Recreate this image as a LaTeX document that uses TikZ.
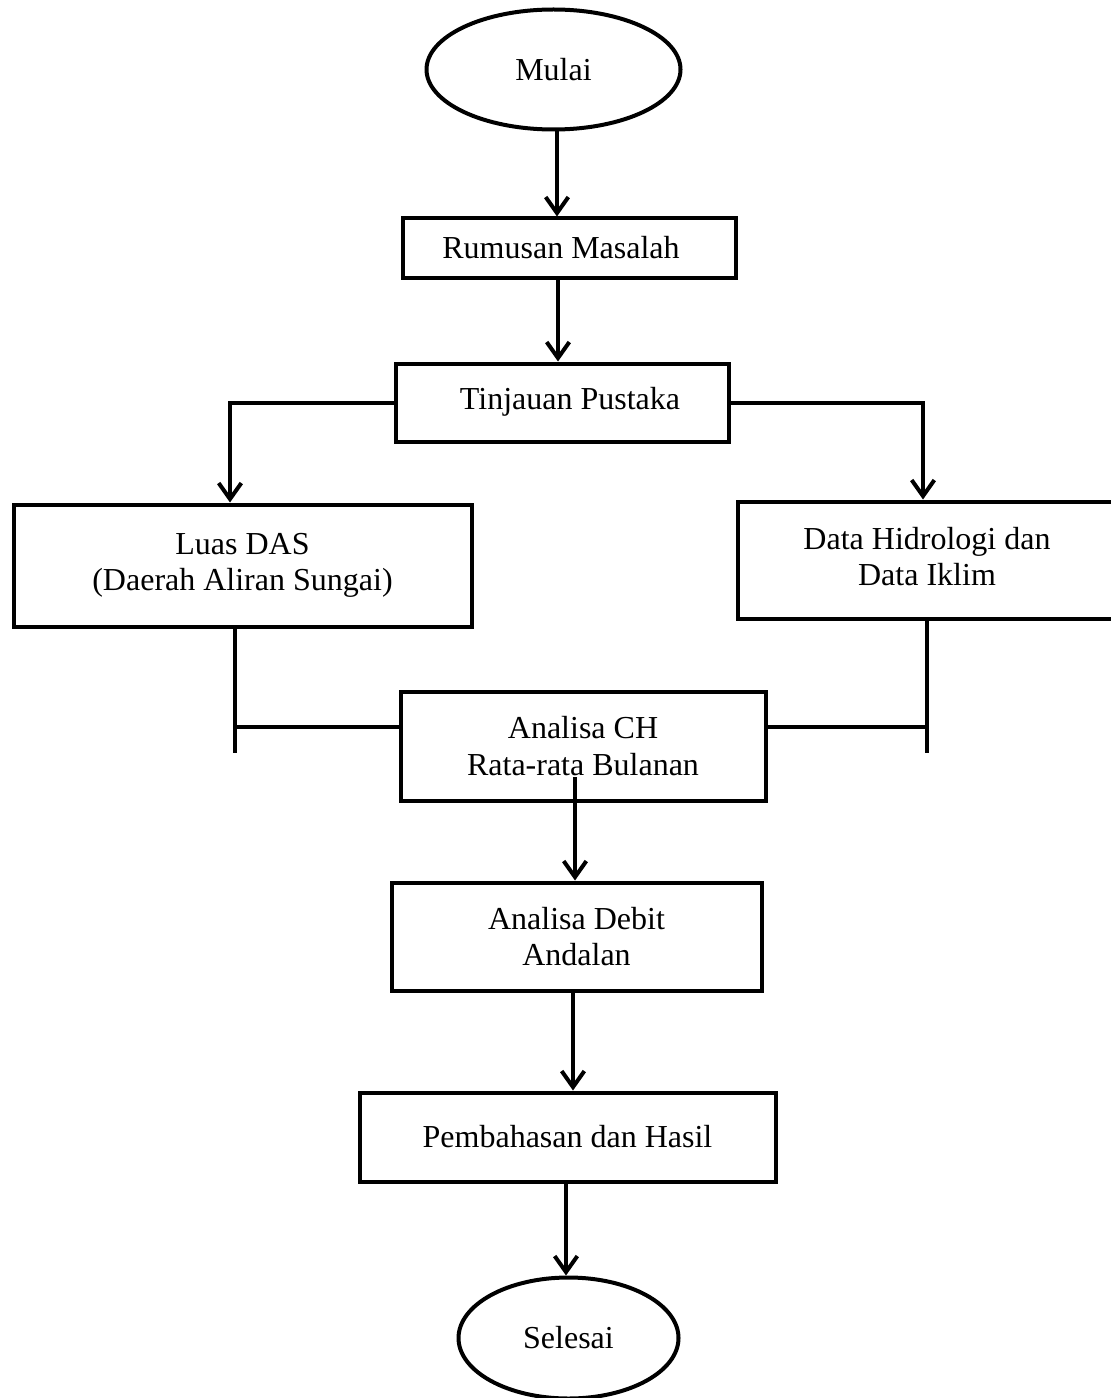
\documentclass[tikz,border=0pt]{standalone}
\usepackage{fontspec}
\setmainfont{Liberation Serif}
\usetikzlibrary{shapes.geometric,arrows.meta,calc}
\tikzset{
  every node/.style={font=\fontsize{24}{27.5}\selectfont, inner sep=0pt},
  box/.style={draw, line width=3pt, rectangle, align=center},
  term/.style={draw, line width=3pt, ellipse},
  conn/.style={line width=3pt},
  arr/.style={line width=3pt, -{Straight Barb[length=12pt,width=17pt,line width=3pt]}}
}
\begin{document}
\begin{tikzpicture}[x=0.75pt,y=-0.75pt]
\useasboundingbox (0,0) rectangle (1110,1398);
\node[term, minimum width=254*0.75pt, minimum height=120*0.75pt] (mulai) at (553.5,69.5) {\raisebox{-4.5pt}{Mulai}};
\node[box, minimum width=333*0.75pt, minimum height=59*0.75pt] (rumusan) at (569,248) {Rumusan Masalah\hspace*{12pt}};
\node[box, minimum width=333*0.75pt, minimum height=78*0.75pt] (tinjauan) at (562,402.5) {\hspace*{12pt}\raisebox{6.4pt}{Tinjauan Pustaka}};
\node[box, minimum width=458*0.75pt, minimum height=122*0.75pt] (luas) at (242.5,565.5) {Luas DAS\\(Daerah Aliran Sungai)};
\node[box, minimum width=378*0.75pt, minimum height=117*0.75pt] (data) at (927,560) {\raisebox{7pt}{\begin{tabular}{@{}c@{}}Data Hidrologi dan\\Data Iklim\end{tabular}}};
\node[box, minimum width=365*0.75pt, minimum height=109*0.75pt] (ch) at (583,746) {Analisa CH\\Rata-rata Bulanan};
\node[box, minimum width=370*0.75pt, minimum height=108*0.75pt] (debit) at (576.5,936.5) {Analisa Debit\\Andalan};
\node[box, minimum width=416*0.75pt, minimum height=89*0.75pt] (pemb) at (567.5,1137) {Pembahasan dan Hasil};
\node[term, minimum width=220*0.75pt, minimum height=121*0.75pt] (selesai) at (568.5,1338) {Selesai};

\coordinate (lend) at (235,753);
\coordinate (rend) at (927,753);
\coordinate (ljoin) at (235,727);
\coordinate (rjoin) at (927,727);
\coordinate (chstart) at (575,777);
\coordinate (tjl) at (230,403);
\coordinate (tjr) at (923,403);
\coordinate (a1) at (557,0);
\coordinate (a2) at (558,0);
\coordinate (a5) at (573,0);
\coordinate (a6) at (566,0);

\draw[arr] ($(mulai.south -| a1)+(0,-2)$) -- (rumusan.north -| a1);
\draw[arr] (rumusan.south -| a2) -- (tinjauan.north -| a2);
\draw[arr] (tinjauan.west |- tjl) -- (tjl) -- (luas.north -| tjl);
\draw[arr] (tinjauan.east |- tjr) -- (tjr) -- (data.north -| tjr);
\draw[conn] (luas.south -| lend) -- (lend);
\draw[conn] (ljoin) -- (ch.west |- ljoin);
\draw[conn] (data.south -| rend) -- (rend);
\draw[conn] (rjoin) -- (ch.east |- rjoin);
\draw[arr] (chstart) -- (debit.north -| chstart);
\draw[arr] (debit.south -| a5) -- (pemb.north -| a5);
\draw[arr] (pemb.south -| a6) -- (selesai.north -| a6);
\end{tikzpicture}
\end{document}
